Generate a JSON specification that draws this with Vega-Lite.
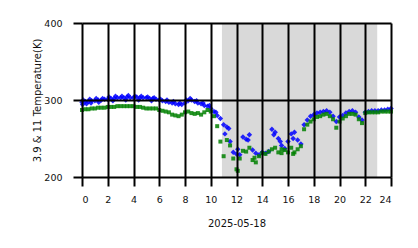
{
  "$schema": "https://vega.github.io/schema/vega-lite/v6.json",
  "width": 309,
  "height": 154,
  "autosize": {"type": "none"},
  "padding": {"left": 82, "top": 23, "right": 27, "bottom": 71},
  "background": "white",
  "config": {
    "view": {"stroke": null},
    "font": "DejaVu Sans",
    "axis": {
      "grid": true, "gridColor": "black", "gridWidth": 2, "gridOpacity": 1,
      "domain": false, "tickColor": "black", "tickWidth": 2, "tickSize": 9,
      "labelFont": "DejaVu Sans", "labelFontSize": 9.5, "labelColor": "#111", "labelOverlap": false,
      "titleFont": "DejaVu Sans", "titleFontSize": 10, "titleFontWeight": "normal", "titleColor": "#111",
      "zindex": 1
    }
  },
  "datasets": {
    "night": [{"s": 10.87, "e": 22.93}],
    "temps": [
      {"t": 0, "b": 297, "g": 287}, {"t": 0.25, "b": 298, "g": 288}, {"t": 0.5, "b": 298, "g": 288}, {"t": 0.75, "b": 299, "g": 289},
      {"t": 1, "b": 299, "g": 289}, {"t": 1.25, "b": 300, "g": 290}, {"t": 1.5, "b": 300, "g": 290}, {"t": 1.75, "b": 301, "g": 290},
      {"t": 2, "b": 301, "g": 291}, {"t": 2.25, "b": 302, "g": 291}, {"t": 2.5, "b": 302, "g": 291}, {"t": 2.75, "b": 303, "g": 292},
      {"t": 3, "b": 303, "g": 292}, {"t": 3.25, "b": 303, "g": 292}, {"t": 3.5, "b": 304, "g": 292}, {"t": 3.75, "b": 303, "g": 292},
      {"t": 4, "b": 303, "g": 292}, {"t": 4.25, "b": 304, "g": 291}, {"t": 4.5, "b": 303, "g": 291}, {"t": 4.75, "b": 303, "g": 290},
      {"t": 5, "b": 303, "g": 289}, {"t": 5.25, "b": 302, "g": 289}, {"t": 5.5, "b": 302, "g": 289}, {"t": 5.75, "b": 301, "g": 289},
      {"t": 6, "b": 300, "g": 287}, {"t": 6.25, "b": 299, "g": 286}, {"t": 6.5, "b": 298, "g": 285}, {"t": 6.75, "b": 297, "g": 284},
      {"t": 7, "b": 296, "g": 281}, {"t": 7.25, "b": 295, "g": 280}, {"t": 7.5, "b": 294, "g": 279}, {"t": 7.75, "b": 294, "g": 281},
      {"t": 8, "b": 296, "g": 284}, {"t": 8.25, "b": 299, "g": 285}, {"t": 8.5, "b": 300, "g": 283}, {"t": 8.75, "b": 298, "g": 282},
      {"t": 9, "b": 296, "g": 283}, {"t": 9.25, "b": 295, "g": 281}, {"t": 9.5, "b": 293, "g": 284}, {"t": 9.75, "b": 292, "g": 287},
      {"t": 10, "b": 289, "g": 285}, {"t": 10.25, "b": 285, "g": 279}, {"t": 10.5, "b": 280, "g": 266}, {"t": 10.75, "b": 276, "g": 246},
      {"t": 11, "b": 268, "g": 227}, {"t": 11.25, "b": 265, "g": 248}, {"t": 11.5, "b": 246, "g": 241}, {"t": 11.75, "b": 232, "g": 224},
      {"t": 12, "b": 230, "g": 210}, {"t": 12.25, "b": 229, "g": 224}, {"t": 12.5, "b": 252, "g": 234}, {"t": 12.75, "b": 249, "g": 233},
      {"t": 13, "b": 255, "g": 238}, {"t": 13.25, "b": 235, "g": 222}, {"t": 13.5, "b": 231, "g": 219}, {"t": 13.75, "b": 229, "g": 227},
      {"t": 14, "b": 232, "g": 231}, {"t": 14.25, "b": 231, "g": 230}, {"t": 14.5, "b": 233, "g": 233}, {"t": 14.75, "b": 262, "g": 236},
      {"t": 15, "b": 258, "g": 238}, {"t": 15.25, "b": 250, "g": 232}, {"t": 15.5, "b": 241, "g": 231}, {"t": 15.75, "b": 237, "g": 235},
      {"t": 16, "b": 246, "g": 232}, {"t": 16.25, "b": 256, "g": 238}, {"t": 16.5, "b": 258, "g": 232}, {"t": 16.75, "b": 248, "g": 236},
      {"t": 17, "b": 243, "g": 240}, {"t": 17.25, "b": 268, "g": 262}, {"t": 17.5, "b": 274, "g": 268}, {"t": 17.75, "b": 279, "g": 272},
      {"t": 18, "b": 281, "g": 275}, {"t": 18.25, "b": 283, "g": 278}, {"t": 18.5, "b": 284, "g": 279}, {"t": 18.75, "b": 285, "g": 281},
      {"t": 19, "b": 286, "g": 282}, {"t": 19.25, "b": 284, "g": 279}, {"t": 19.5, "b": 279, "g": 275}, {"t": 19.75, "b": 272, "g": 264},
      {"t": 20, "b": 278, "g": 272}, {"t": 20.25, "b": 280, "g": 276}, {"t": 20.5, "b": 283, "g": 279}, {"t": 20.75, "b": 285, "g": 282},
      {"t": 21, "b": 286, "g": 282}, {"t": 21.25, "b": 284, "g": 281}, {"t": 21.5, "b": 278, "g": 275}, {"t": 21.75, "b": 274, "g": 270},
      {"t": 22, "b": 284, "g": 283}, {"t": 22.25, "b": 285, "g": 284}, {"t": 22.5, "b": 286, "g": 284}, {"t": 22.75, "b": 286, "g": 284},
      {"t": 23, "b": 286, "g": 284}, {"t": 23.25, "b": 287, "g": 285}, {"t": 23.5, "b": 287, "g": 285}, {"t": 23.75, "b": 288, "g": 285},
      {"t": 24, "b": 289, "g": 285},
      {"t": 0.1, "b": 300}, {"t": 0.6, "b": 301}, {"t": 1.1, "b": 302}, {"t": 1.6, "b": 302}, {"t": 2.1, "b": 304}, {"t": 2.6, "b": 305},
      {"t": 3.1, "b": 305}, {"t": 3.6, "b": 306}, {"t": 4.1, "b": 305}, {"t": 4.6, "b": 305}, {"t": 5.1, "b": 304}, {"t": 5.6, "b": 303},
      {"t": 6.1, "b": 301}, {"t": 6.6, "b": 300}, {"t": 7.1, "b": 298}, {"t": 7.6, "b": 296}, {"t": 8.1, "b": 300}, {"t": 8.4, "b": 302},
      {"t": 8.9, "b": 299}, {"t": 9.4, "b": 296}, {"t": 9.9, "b": 293}, {"t": 10.4, "b": 284},
      {"t": 0.05, "b": 294}, {"t": 0.35, "b": 295}, {"t": 0.7, "b": 296}, {"t": 1.3, "b": 297}, {"t": 2.4, "b": 299},
      {"t": 3.4, "b": 300}, {"t": 4.4, "b": 300}, {"t": 5.4, "b": 299},
      {"t": 11.1, "b": 256}, {"t": 11.4, "b": 263}, {"t": 12.1, "b": 236}, {"t": 12.9, "b": 248},
      {"t": 14.9, "b": 255}, {"t": 15.4, "b": 246}, {"t": 16.4, "b": 250},
      {"t": 12.1, "g": 208}, {"t": 13.4, "g": 225}, {"t": 15.5, "g": 236}, {"t": 16.4, "g": 230}
    ]
  },
  "layer": [
    {
      "data": {"name": "night"},
      "mark": {"type": "rect", "color": "#d9d9d9"},
      "encoding": {
        "x": {"field": "s", "type": "quantitative", "scale": {"domain": [0, 24], "nice": false, "zero": false},
              "axis": {"values": [0, 2, 4, 6, 8, 10, 12, 14, 16, 18, 20, 22, 24], "title": "2025-05-18", "labelPadding": 8, "titlePadding": 15, "zindex": 1}},
        "x2": {"field": "e"}
      }
    },
    {
      "data": {"name": "temps"},
      "transform": [{"filter": "isValid(datum.b)"}],
      "mark": {"type": "point", "shape": "diamond", "filled": true, "size": 30, "color": "#0000ff", "opacity": 0.85},
      "encoding": {
        "x": {"field": "t", "type": "quantitative",
              "axis": {"values": [0, 2, 4, 6, 8, 10, 12, 14, 16, 18, 20, 22, 24], "title": "2025-05-18", "labelPadding": 8, "titlePadding": 15, "zindex": 1}},
        "y": {"field": "b", "type": "quantitative", "scale": {"domain": [200, 400], "nice": false, "zero": false},
              "axis": {"values": [200, 300, 400], "title": "3.9 & 11 Temperature(K)", "labelPadding": 11, "titlePadding": 1, "zindex": 1}}
      }
    },
    {
      "data": {"name": "temps"},
      "transform": [{"filter": "isValid(datum.g)"}],
      "mark": {"type": "point", "shape": "square", "filled": true, "size": 16, "color": "#008000", "opacity": 0.85},
      "encoding": {
        "x": {"field": "t", "type": "quantitative",
              "axis": {"values": [0, 2, 4, 6, 8, 10, 12, 14, 16, 18, 20, 22, 24], "title": "2025-05-18", "labelPadding": 8, "titlePadding": 15, "zindex": 1}},
        "y": {"field": "g", "type": "quantitative"}
      }
    }
  ]
}
